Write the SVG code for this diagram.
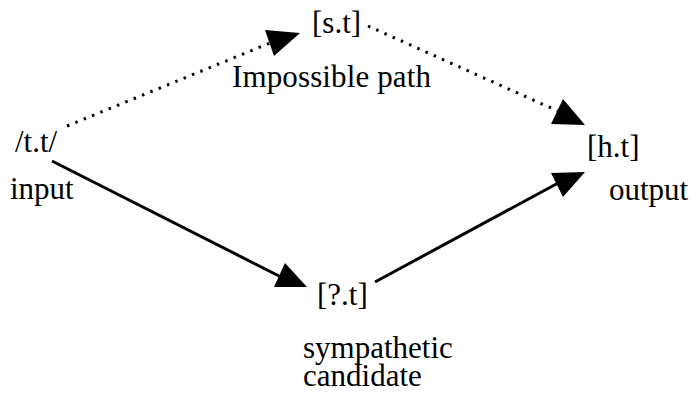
<svg xmlns="http://www.w3.org/2000/svg" width="691" height="394" viewBox="0 0 691 394">
<style>
.t{font-family:'Liberation Serif','Times New Roman',serif;font-size:31px;fill:#000}
.solid{stroke:#000;stroke-width:3;fill:none}
.dot{stroke:#000;stroke-width:3;fill:none;stroke-dasharray:2.5 6.5}
.head{fill:#000;stroke:none}
</style>
<rect width="691" height="394" fill="#fff"/>
<g id="connectors">
<line class="dot" x1="67" y1="126" x2="270" y2="43"/>
<polygon class="head" points="265,30 300,33 274,56"/>
<line class="dot" x1="368" y1="26" x2="560" y2="112"/>
<polygon class="head" points="563,99 551,124 585,125"/>
<line class="solid" x1="52" y1="161" x2="283" y2="278"/>
<polygon class="head" points="285,263 274,287 307,287"/>
<line class="solid" x1="375" y1="282" x2="560" y2="182"/>
<polygon class="head" points="551,173 585,172 563,197"/>
</g>
<g id="node-input">
<text class="t" x="15" y="152">/t.t/</text>
<text class="t" x="10" y="199">input</text>
</g>
<g id="node-st">
<text class="t" x="312" y="33">[s.t]</text>
<text class="t" x="232" y="87" textLength="199" lengthAdjust="spacing">Impossible path</text>
</g>
<g id="node-ht">
<text class="t" x="587" y="157">[h.t]</text>
<text class="t" x="609" y="200">output</text>
</g>
<g id="node-qt">
<text class="t" x="317" y="305">[?.t]</text>
<text class="t" x="303" y="358">sympathetic</text>
<text class="t" x="303" y="386">candidate</text>
</g>
</svg>
